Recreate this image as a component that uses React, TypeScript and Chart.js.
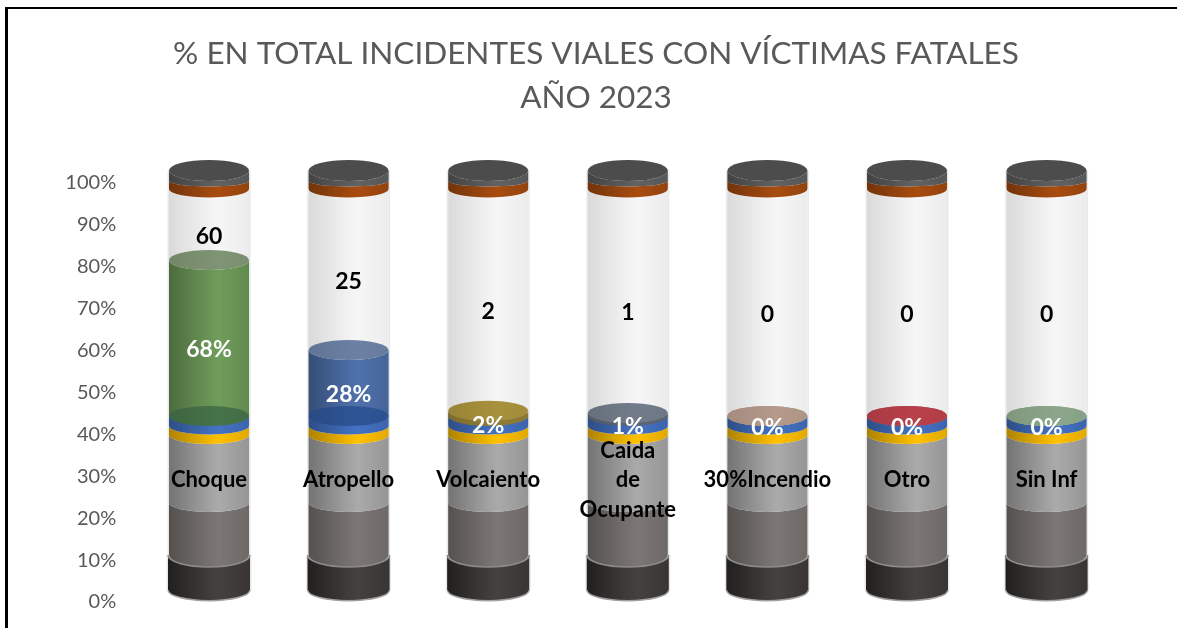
import React, { useEffect, useRef } from "react";
import { Chart, registerables } from "chart.js";

Chart.register(...registerables);

const categories = ["Choque", "Atropello", "Volcaiento", "Caida de Ocupante", "Incendio", "Otro", "Sin Inf"];
const categoryLabels: string[][] = [["Choque"], ["Atropello"], ["Volcaiento"], ["Caida", "de", "Ocupante"], ["30%Incendio"], ["Otro"], ["Sin Inf"]];
const counts = ["60", "25", "2", "1", "0", "0", "0"];
const shares = ["68%", "28%", "2%", "1%", "0%", "0%", "0%"];

const baseSeries = [8.33, 8.33, 8.33, 8.33, 8.33, 8.33, 8.33];
const midSeries = [12.4, 12.4, 12.4, 12.4, 12.4, 12.4, 12.4];
const lightSeries = [16.2, 16.2, 16.2, 16.2, 16.2, 16.2, 16.2];
const yellowSeries = [2.14, 2.14, 2.14, 2.14, 2.14, 2.14, 2.14];
const blueSeries = [2.38, 2.38, 2.38, 2.38, 2.38, 2.38, 2.38];
const shareSeries = [37.1, 15.7, 1.2, 0.7, 0, 0, 0];
const glassSeries = [16.93, 38.33, 52.83, 53.33, 54.03, 54.03, 54.03];
const brownSeries = [1.9, 1.9, 1.9, 1.9, 1.9, 1.9, 1.9];
const capSeries = [2.5, 2.5, 2.5, 2.5, 2.5, 2.5, 2.5];

const shareBody = ["#6f9d5a", "#4f72ad", "#a8913c", "#6b7482", "#b59a8b", "#b8404a", "#8ba68a"];
const shareTop = ["#7f9474", "#6b80a3", "#a8913c", "#727b89", "#b59a8b", "#b8404a", "#8ba68a"];
const shareFloor = ["#467349", "#2f5596", "#8f7c38", "#5d6674", "#b59a8b", "#b8404a", "#8ba68a"];

const ELLIPSE_RY = [12, 9, 9, 8.5, 9, 10, 8.5, 5.5, 10.5];
const PAINT_ORDER = [0, 1, 2, 3, 4, 6, 5, 7, 8];

function bodyPath(ctx: CanvasRenderingContext2D, x: number, rx: number, yTop: number, ryTop: number, yBot: number, ryBot: number) {
  ctx.beginPath();
  ctx.moveTo(x - rx, yBot);
  ctx.lineTo(x - rx, yTop);
  ctx.ellipse(x, yTop, rx, ryTop, 0, Math.PI, 0, true);
  ctx.lineTo(x + rx, yBot);
  ctx.ellipse(x, yBot, rx, ryBot, 0, 0, Math.PI, false);
  ctx.closePath();
}

function shadeGradient(ctx: CanvasRenderingContext2D, x: number, rx: number, strength: number) {
  const g = ctx.createLinearGradient(x - rx, 0, x + rx, 0);
  g.addColorStop(0, `rgba(0,0,0,${0.32 * strength})`);
  g.addColorStop(0.5, `rgba(0,0,0,${0.05 * strength})`);
  g.addColorStop(0.62, "rgba(0,0,0,0)");
  g.addColorStop(1, `rgba(0,0,0,${0.12 * strength})`);
  return g;
}

const cylinderPlugin = {
  id: "cylinders",
  beforeDatasetsDraw(chart: any) {
    const ctx: CanvasRenderingContext2D = chart.ctx;
    ctx.save();
    const rimFronts: any[] = [];
    PAINT_ORDER.forEach((di) => {
      const ds = chart.data.datasets[di];
      const meta = chart.getDatasetMeta(di);
      meta.data.forEach((el: any, j: number) => {
        const { x, y, base, width } = el.getProps(["x", "y", "base", "width"], true);
        const rx = width / 2;
        const isBase = di === 0;
        const wide = isBase ? rx + 1 : rx;
        const ryTop = ELLIPSE_RY[di];
        const ryBot = di === 0 ? 10.7 : ELLIPSE_RY[di - 1];
        const color = Array.isArray(ds.backgroundColor) ? ds.backgroundColor[j] : ds.backgroundColor;
        const strength = di === 6 ? 0.35 : di === 0 ? 1.6 : 1;

        // soft pale edge along both sides of the tube
        ctx.fillStyle = "rgba(190,190,190,0.35)";
        ctx.fillRect(x - wide - 1.5, y, 1.5, base - y);
        ctx.fillRect(x + wide, y, 1.5, base - y);

        bodyPath(ctx, x, wide, y, ryTop, base, ryBot);
        ctx.fillStyle = color;
        ctx.fill();
        ctx.fillStyle = shadeGradient(ctx, x, wide, strength);
        ctx.fill();

        if (di === 5) {
          ctx.beginPath();
          ctx.ellipse(x, base, rx, ryBot + 1, 0, 0, Math.PI * 2);
          ctx.fillStyle = shareFloor[j];
          ctx.fill();
          ctx.fillStyle = shadeGradient(ctx, x, rx, 0.4);
          ctx.fill();
          ctx.beginPath();
          ctx.ellipse(x, y, rx, ryTop, 0, 0, Math.PI * 2);
          ctx.fillStyle = shareTop[j];
          ctx.fill();
          ctx.fillStyle = shadeGradient(ctx, x, rx, 0.3);
          ctx.fill();
        } else if (di === 8) {
          ctx.beginPath();
          ctx.ellipse(x, y, rx, ryTop, 0, 0, Math.PI * 2);
          ctx.fillStyle = "#4c4c4c";
          ctx.fill();
        } else if (di === 0) {
          rimFronts.push({ x, y, rx: wide, ry: ryTop, base, ryBot });
        }
      });
    });

    rimFronts.forEach((r) => {
      ctx.strokeStyle = "#8c8c8c";
      ctx.lineWidth = 1.5;
      ctx.beginPath();
      ctx.ellipse(r.x, r.y, r.rx, r.ry, 0, 0, Math.PI);
      ctx.stroke();
      ctx.strokeStyle = "#a0a0a0";
      ctx.beginPath();
      ctx.ellipse(r.x, r.base, r.rx, r.ryBot, 0, 0, Math.PI);
      ctx.stroke();
    });

    ctx.textAlign = "center";
    ctx.textBaseline = "middle";
    const labelAt = (di: number, j: number) => {
      const el = chart.getDatasetMeta(di).data[j];
      return { x: el.x, y: (el.y + el.base) / 2 + 10 };
    };
    categories.forEach((_c, j) => {
      const lab = labelAt(2, j);
      ctx.font = "bold 22px Lato";
      ctx.fillStyle = "#000000";
      const lines = categoryLabels[j];
      lines.forEach((t, k) => ctx.fillText(t, lab.x, lab.y + 1 + (k - (lines.length - 1) / 2) * 29.5));
      const s = labelAt(5, j);
      ctx.font = "bold 23px Lato";
      ctx.fillStyle = "#ffffff";
      ctx.fillText(shares[j], s.x, s.y + 2);
      const c = labelAt(6, j);
      ctx.font = "bold 23px Lato";
      ctx.fillStyle = "#000000";
      ctx.fillText(counts[j], c.x, c.y + 2);
    });
    ctx.restore();
    return false;
  },
};

export default function App() {
  const ref = useRef<HTMLCanvasElement | null>(null);
  useEffect(() => {
    if (!ref.current) return;
    const mk = (label: string, data: number[], backgroundColor: any) => ({ label, data, backgroundColor, yAxisID: "y1", stack: "s", clip: false as any });
    const chart = new Chart(ref.current, {
      type: "bar",
      data: {
        labels: categories,
        datasets: [
          mk("Base", baseSeries, "#45413f"),
          mk("Medio", midSeries, "#7c7774"),
          mk("Claro", lightSeries, "#aaaaaa"),
          mk("Amarillo", yellowSeries, "#ffc000"),
          mk("Azul", blueSeries, "#4472c4"),
          mk("%", shareSeries, shareBody),
          mk("Resto", glassSeries, "#f6f6f6"),
          mk("Marrón", brownSeries, "#a84c10"),
          mk("Tapa", capSeries, "#626262"),
        ],
      },
      options: {
        animation: false,
        responsive: false,
        events: [],
        layout: { padding: { left: 15, right: 0, top: 0, bottom: 27 } },
        datasets: { bar: { categoryPercentage: 1, barPercentage: 0.573 } },
        plugins: {
          legend: { display: false },
          tooltip: { enabled: false },
          title: {
            display: true,
            text: ["% EN TOTAL INCIDENTES VIALES CON VÍCTIMAS FATALES", "AÑO 2023"],
            color: "#595959",
            font: { family: "Lato", size: 31.5, weight: "normal", lineHeight: 44 / 31.5 },
            padding: { top: 32, bottom: 62 },
          },
        },
        scales: {
          x: { display: false, stacked: true },
          y1: {
            display: true,
            position: "right",
            stacked: true,
            min: -2.62,
            max: 97.14,
            grid: { display: false },
            border: { display: false },
            ticks: { display: false },
            afterFit: (s: any) => {
              s.width = 60.6;
              s.paddingTop = 0;
              s.paddingBottom = 0;
            },
          },
          y: {
            position: "left",
            min: 0,
            max: 100,
            grid: { display: false },
            border: { display: false },
            ticks: {
              stepSize: 10,
              padding: 15,
              labelOffset: 1,
              color: "#595959",
              font: { family: "Lato", size: 20 },
              callback: (v: any) => `${v}%`,
            },
            afterFit: (s: any) => {
              s.width = 124.2;
              s.paddingTop = 0;
              s.paddingBottom = 0;
            },
          },
        },
      } as any,
      plugins: [cylinderPlugin as any],
    });
    return () => chart.destroy();
  }, []);
  return (
    <div style={{ position: "fixed", left: 0, top: 0, width: 1177, height: 628, background: "#fff", overflow: "hidden" }}>
      <canvas ref={ref} width={1177} height={628} style={{ position: "absolute", left: 0, top: 0, display: "block" }} />
      <div style={{ position: "absolute", left: 5, top: 7, right: 0, bottom: 0, borderLeft: "3px solid #000", borderTop: "2px solid #000" }} />
    </div>
  );
}
